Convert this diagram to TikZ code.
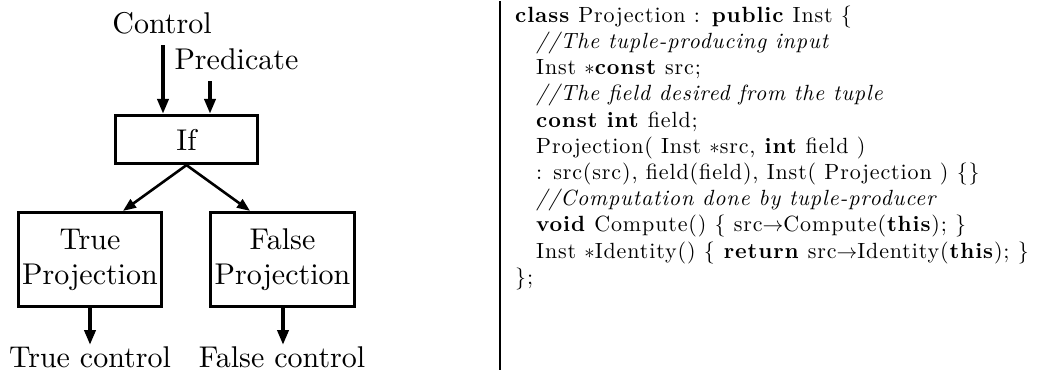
\documentclass[tikz,border=0pt]{standalone}
\usepackage{fontspec}
\setmainfont{lmroman10-regular.otf}[
  BoldFont=lmroman10-bold.otf,
  ItalicFont=lmroman10-italic.otf]
\newfontfamily\listingfont{lmroman10-regular.otf}[
  BoldFont=lmroman10-bold.otf,
  ItalicFont=lmroman10-italic.otf,
  LetterSpace=4]
\usetikzlibrary{arrows.meta}

\newcommand*{\figw}{1052}
\newcommand*{\figh}{370}

\begin{document}
\begin{tikzpicture}
[
	x=1pt,
	y=-1pt,
	blk/.style={draw,line width=3.2pt,inner sep=0pt,align=center},
	flow/.style={line width=4pt,-{Triangle[length=15pt,width=11pt]}},
	branch/.style={line width=2.6pt,-{Triangle[length=13pt,width=10pt]}},
	big/.style={font=\fontsize{30}{35}\selectfont},
	code/.style={font=\listingfont\fontsize{22}{26.2}\selectfont,align=left,inner sep=0pt}
]

	\useasboundingbox (0,0) rectangle (\figw,\figh);

	% inputs
	\node[big,anchor=base] (ctl) at (162,33) {Control};
	\node[big,anchor=base west] (pred) at (171,69) {Predicate};
	\coordinate (ctlin) at (163,45);
	\coordinate (predin) at (210,81);

	% boxes
	\node[blk,big,minimum width=142pt,minimum height=48pt] (if) at (186.5,139.5) {If};
	\node[blk,big,minimum width=143pt,minimum height=94pt] (tproj) at (90,259.5) {True\\Projection};
	\node[blk,big,minimum width=144pt,minimum height=94pt] (fproj) at (282.5,259.5) {False\\Projection};

	% outputs
	\node[big,anchor=base] (tout) at (90,367) {True control};
	\node[big,anchor=base] (fout) at (282,367) {False control};
	\coordinate (tend) at (90,345);
	\coordinate (fend) at (283,345);

	% connectors
	\draw[flow] (ctlin) -- (ctlin |- if.north);
	\draw[flow] (predin) -- (predin |- if.north);
	\draw[branch] (if.south) -- ([xshift=33pt]tproj.north);
	\draw[branch] (if.south) -- ([xshift=-32.5pt]fproj.north);
	\draw[flow] (tproj.south -| tend) -- (tend);
	\draw[flow] (fproj.south -| fend) -- (fend);

	% separator
	\draw[line width=2pt] (500,1) coordinate (septop) -- (500,\figh) coordinate (sepbot);

	% class listing
	\node[code,anchor=north west] (listing) at (515,5.5) {%
\textbf{class} Projection : \textbf{public} Inst \{\\
\hspace*{21pt}\textit{//The tuple-producing input}\\
\hspace*{21pt}Inst $\ast$\textbf{const} src;\\
\hspace*{21pt}\textit{//The field desired from the tuple}\\
\hspace*{21pt}\textbf{const int} field;\\
\hspace*{21pt}Projection( Inst $\ast$src, \textbf{int} field )\\
\hspace*{21pt}: src(src), field(field), Inst( Projection ) \{\}\\
\hspace*{21pt}\textit{//Computation done by tuple-producer}\\
\hspace*{21pt}\textbf{void} Compute() \{ src$\rightarrow$Compute(\textbf{this}); \}\\
\hspace*{21pt}Inst $\ast$Identity() \{ \textbf{return} src$\rightarrow$Identity(\textbf{this}); \}\\
\};};

\end{tikzpicture}
\end{document}
